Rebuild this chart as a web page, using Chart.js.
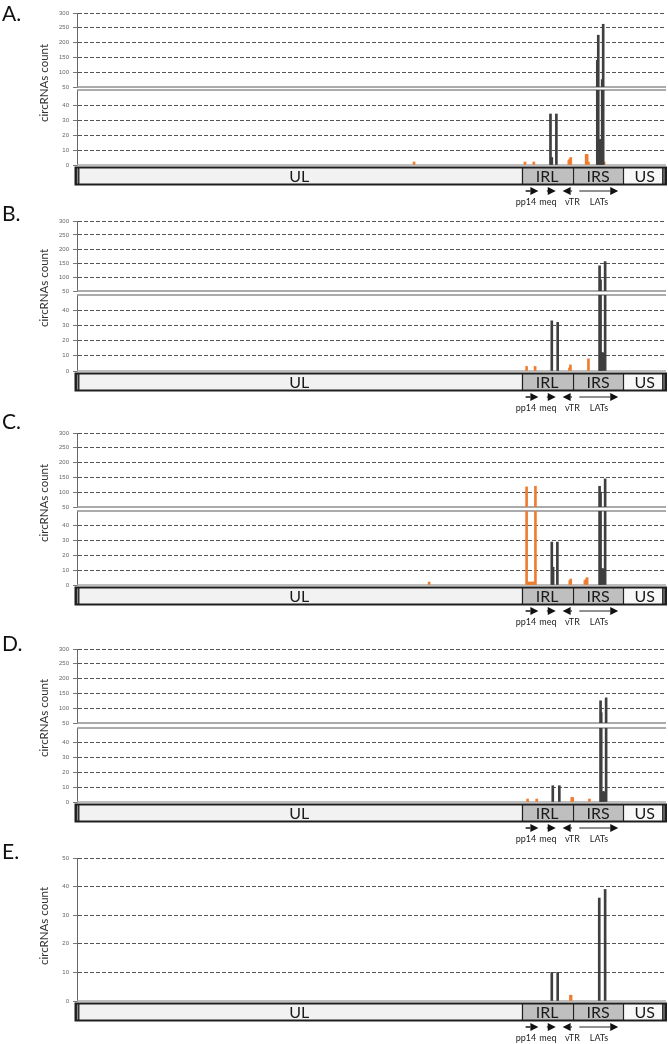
<!DOCTYPE html>
<html><head><meta charset="utf-8">
<script src="https://cdn.jsdelivr.net/npm/chart.js@4.4.1/dist/chart.umd.min.js"></script>
<style>
html,body{margin:0;padding:0;background:#fff;}
body{width:668px;height:1044px;position:relative;overflow:hidden;font-family:Lato,sans-serif;}
canvas{position:absolute;left:0;}
.letter{position:absolute;left:2px;font-size:21px;line-height:21px;color:#111;}
.ytitle{position:absolute;left:44px;white-space:nowrap;font-size:11.5px;line-height:1;color:#333;transform:translate(-50%,-50%) rotate(-90deg);}
</style></head><body>
<script>
// ---------- data ----------
const BREAK = 50;
const genomeMin = 0, genomeMax = 180;            // genome position (kb)
const regionNames = ['UL', 'IRL', 'IRS', 'US'];
const regionStart = [0, 135.9, 151.5, 167.0];
const regionEnd   = [135.9, 151.5, 167.0, 180];
const geneNames   = ['pp14', 'meq', 'vTR', 'LATs'];
const geneFrom    = [137.1, 143.6, 151.2, 153.5];
const geneTo      = [141.0, 146.3, 148.4, 165.4];
const geneLabelAt = [137.2, 143.9, 151.4, 159.5];
const upperTicks  = [50, 100, 150, 200, 250, 300];
const lowerTicks  = [0, 10, 20, 30, 40, 50];
const panelLabels = ['A.', 'B.', 'C.', 'D.', 'E.'];
const axisTitle   = 'circRNAs count';

// panel A
const A_grayPos   = [144.7, 145.1, 146.5, 159.0, 159.3, 159.7, 160.1, 160.5, 160.8];
const A_grayVal   = [34, 5, 34, 140, 225, 17, 17, 75, 262];
const A_orangePos = [103.0, 136.9, 139.6, 150.3, 150.6, 150.9, 155.6, 155.9, 156.3, 161.1];
const A_orangeVal = [2, 2, 2, 3, 4, 5, 7, 7, 2, 2];
// panel B
const B_grayPos   = [145.1, 146.9, 159.7, 160.0, 160.4, 160.8, 161.4];
const B_grayVal   = [33, 32, 140, 90, 12, 12, 155];
const B_orangePos = [137.4, 140.0, 150.5, 150.8, 156.3];
const B_orangeVal = [3, 3, 2, 4, 8];
// panel C
const C_grayPos   = [145.1, 145.5, 146.8, 159.7, 160.0, 160.4, 160.8, 161.4];
const C_grayVal   = [29, 12, 29, 120, 100, 11, 11, 145];
const C_orangePos = [107.6, 137.4, 137.8, 138.3, 138.8, 139.3, 139.7, 140.1, 150.6, 150.9, 155.2, 155.6, 155.9];
const C_orangeVal = [2, 118, 2, 2, 2, 2, 2, 120, 3, 4, 3, 4, 5];
// panel D
const D_grayPos   = [145.4, 147.4, 160.0, 160.2, 160.7, 161.1, 161.7];
const D_grayVal   = [11, 11, 125, 85, 7, 7, 135];
const D_orangePos = [137.7, 140.5, 151.2, 151.5, 156.6];
const D_orangeVal = [2, 2, 3, 3, 2];
// panel E
const E_grayPos   = [145.1, 146.9, 159.6, 161.4];
const E_grayVal   = [10, 10, 36, 39];
const E_orangePos = [150.8, 151.0];
const E_orangeVal = [2, 2];

// ---------- layout / style ----------
const GRAY = '#3f3f3f', ORANGE = '#ed7d31';
const PAD_TOP = 8, PAD_BOT = 43, AXIS_W = 77;
const regionFill = {UL: '#f2f2f2', IRL: '#bfbfbf', IRS: '#bfbfbf', US: '#f8f8f8'};
const panels = [
  {letterTop: 1.5,   top: 13,  brk1: 87,  brk2: 90,  zero: 165,  titleY: 83,  gray: [A_grayPos, A_grayVal], orange: [A_orangePos, A_orangeVal], broken: true},
  {letterTop: 201.5, top: 221, brk1: 291, brk2: 295, zero: 371,  titleY: 288, gray: [B_grayPos, B_grayVal], orange: [B_orangePos, B_orangeVal], broken: true},
  {letterTop: 409.5, top: 433, brk1: 507, brk2: 511, zero: 585,  titleY: 503, gray: [C_grayPos, C_grayVal], orange: [C_orangePos, C_orangeVal], broken: true},
  {letterTop: 631.5, top: 649, brk1: 723, brk2: 728, zero: 802,  titleY: 718, gray: [D_grayPos, D_grayVal], orange: [D_orangePos, D_orangeVal], broken: true},
  {letterTop: 840,   top: 858, zero: 1001, titleY: 926, gray: [E_grayPos, E_grayVal], orange: [E_orangePos, E_orangeVal], broken: false}
];

Chart.defaults.font.family = 'Lato, sans-serif';
const tickFont = {family: 'Liberation Sans', size: 6};
const clear = 'rgba(0,0,0,0)';

function lowerData(pos, val) { return pos.map((p, i) => ({x: p, y: Math.min(val[i], BREAK)})); }
function upperData(pos, val) { return pos.map((p, i) => ({x: p, y: [BREAK, val[i]]})).filter(d => d.y[1] > BREAK); }

function yScale(extra) {
  return Object.assign({
    type: 'linear', position: 'left',
    afterFit: s => { s.width = AXIS_W; },
    border: {display: true, color: '#666', width: 1, dash: [4, 2]},
    ticks: {font: tickFont, color: '#666', padding: 4, autoSkip: false}
  }, extra);
}

const genomePlugin = {
  id: 'genome',
  beforeDatasetsDraw(chart, args, o) {
    const ctx = chart.ctx, a = chart.chartArea;
    const yb = chart.scales.yBot;
    ctx.save();
    if (o.broken) {
      ctx.strokeStyle = '#8f8f8f'; ctx.lineWidth = 1.5;
      [chart.scales.yTop.getPixelForValue(BREAK), yb.getPixelForValue(BREAK)].forEach(y => {
        ctx.beginPath(); ctx.moveTo(a.left, y); ctx.lineTo(a.right, y); ctx.stroke();
      });
    }
    const y0 = yb.getPixelForValue(0);
    ctx.strokeStyle = '#a8a8a8'; ctx.lineWidth = 1.5;
    ctx.beginPath(); ctx.moveTo(a.left, y0); ctx.lineTo(a.right, y0); ctx.stroke();
    ctx.restore();
  },
  afterDraw(chart) {
    const ctx = chart.ctx, xs = chart.scales.x;
    const y0 = chart.scales.yBot.getPixelForValue(0);
    const top = y0 + 2.5, bot = y0 + 19.5;
    const gx0 = xs.getPixelForValue(genomeMin) - 1.5, gx1 = xs.getPixelForValue(genomeMax);
    ctx.save();
    // regions
    regionNames.forEach((n, i) => {
      const x1 = xs.getPixelForValue(regionStart[i]), x2 = xs.getPixelForValue(regionEnd[i]);
      ctx.fillStyle = regionFill[n];
      ctx.fillRect(x1, top, x2 - x1, bot - top);
    });
    // end caps
    [[gx0, gx0 + 4], [gx1 - 4, gx1]].forEach(([c1, c2]) => {
      ctx.fillStyle = '#333'; ctx.fillRect(c1, top, c2 - c1, bot - top);
      ctx.fillStyle = '#ddd';
      for (let yy = top + 1; yy < bot - 1; yy += 2) ctx.fillRect((c1 + c2) / 2 - 0.5, yy, 1, 1);
    });
    // dividers
    ctx.strokeStyle = '#222'; ctx.lineWidth = 1.2;
    regionStart.slice(1).forEach(v => {
      const x = Math.round(xs.getPixelForValue(v)) + 0.5;
      ctx.beginPath(); ctx.moveTo(x, top); ctx.lineTo(x, bot); ctx.stroke();
    });
    ctx.lineWidth = 2; ctx.strokeStyle = '#1e1e1e';
    ctx.strokeRect(gx0, top, gx1 - gx0, bot - top);
    // region labels
    ctx.fillStyle = '#1a1a1a'; ctx.font = '16px Lato'; ctx.textAlign = 'center'; ctx.textBaseline = 'middle';
    regionNames.forEach((n, i) => {
      const x1 = xs.getPixelForValue(regionStart[i]), x2 = xs.getPixelForValue(regionEnd[i]);
      ctx.fillText(n, (x1 + x2) / 2, (top + bot) / 2 + 1);
    });
    // gene arrows
    const ay = y0 + 26, head = 8, hh = 4;
    ctx.fillStyle = '#111'; ctx.strokeStyle = '#222';
    geneNames.forEach((g, i) => {
      const xa = xs.getPixelForValue(geneFrom[i]), xb = xs.getPixelForValue(geneTo[i]);
      const dir = xb > xa ? 1 : -1;
      const base = xb - dir * head;
      if (Math.abs(xb - xa) > head + 0.5) {
        ctx.lineWidth = g === 'LATs' ? 1 : 1.6;
        ctx.beginPath(); ctx.moveTo(xa, ay); ctx.lineTo(base, ay); ctx.stroke();
      }
      ctx.beginPath(); ctx.moveTo(base, ay - hh); ctx.lineTo(xb, ay); ctx.lineTo(base, ay + hh); ctx.closePath(); ctx.fill();
    });
    ctx.font = '9px Lato'; ctx.fillStyle = '#222';
    geneNames.forEach((g, i) => ctx.fillText(g, xs.getPixelForValue(geneLabelAt[i]), y0 + 37.5));
    ctx.restore();
  }
};

panels.forEach((p, idx) => {
  const h = p.zero - p.top + PAD_TOP + PAD_BOT;
  const cv = document.createElement('canvas');
  cv.width = 668; cv.height = h;
  cv.style.top = (p.top - PAD_TOP) + 'px'; cv.style.width = '668px'; cv.style.height = h + 'px';
  document.body.appendChild(cv);

  const lt = document.createElement('div');
  lt.className = 'letter'; lt.style.top = p.letterTop + 'px'; lt.textContent = panelLabels[idx];
  document.body.appendChild(lt);
  const tt = document.createElement('div');
  tt.className = 'ytitle'; tt.style.top = p.titleY + 'px'; tt.textContent = axisTitle;
  document.body.appendChild(tt);

  const datasets = [
    {data: lowerData(p.gray[0], p.gray[1]), yAxisID: 'yBot', backgroundColor: GRAY, order: 0},
    {data: lowerData(p.orange[0], p.orange[1]), yAxisID: 'yBot', backgroundColor: ORANGE, order: 1}
  ];
  const scales = {
    x: {type: 'linear', min: genomeMin, max: genomeMax, display: false, offset: false, grid: {offset: false}}
  };
  if (p.broken) {
    datasets.push({data: upperData(p.gray[0], p.gray[1]), yAxisID: 'yTop', backgroundColor: GRAY, order: 0});
    datasets.push({data: upperData(p.orange[0], p.orange[1]), yAxisID: 'yTop', backgroundColor: ORANGE, order: 1});
    scales.yBot = yScale({
      stack: 'brk', stackWeight: p.zero - p.brk2, weight: 1, min: 0, max: BREAK,
      afterBuildTicks: s => { s.ticks = lowerTicks.map(v => ({value: v})); },
      ticks: {font: tickFont, color: '#666', padding: 4, autoSkip: false, callback: v => v === BREAK ? '' : v},
      grid: {lineWidth: 1, tickLength: 4,
        color: c => (c.tick && c.tick.value > 0 && c.tick.value < BREAK) ? '#555' : clear,
        tickColor: c => (c.tick && c.tick.value === BREAK) ? clear : '#777'}
    });
    scales.yGap = {type: 'linear', position: 'left', stack: 'brk', stackWeight: p.brk2 - p.brk1, weight: 2,
      min: 0, max: 1, afterFit: s => { s.width = AXIS_W; },
      grid: {display: false, drawTicks: false}, ticks: {display: false}, border: {display: false}};
    scales.yTop = yScale({
      stack: 'brk', stackWeight: p.brk1 - p.top, weight: 3, min: BREAK, max: 300,
      afterBuildTicks: s => { s.ticks = upperTicks.map(v => ({value: v})); },
      grid: {lineWidth: 1, tickLength: 4,
        color: c => (c.tick && c.tick.value > BREAK) ? '#555' : clear, tickColor: '#777'}
    });
  } else {
    scales.yBot = yScale({
      min: 0, max: BREAK,
      afterBuildTicks: s => { s.ticks = lowerTicks.map(v => ({value: v})); },
      grid: {lineWidth: 1, tickLength: 4,
        color: c => (c.tick && c.tick.value > 0) ? '#555' : clear, tickColor: '#777'}
    });
  }
  new Chart(cv, {
    type: 'bar',
    data: {datasets: datasets.map(d => Object.assign({barThickness: 2, grouped: false, borderWidth: 0}, d))},
    options: {
      responsive: false, animation: false, events: [],
      layout: {padding: {top: PAD_TOP, bottom: PAD_BOT, left: 0, right: 2}},
      scales,
      plugins: {legend: {display: false}, tooltip: {enabled: false}, genome: {broken: p.broken}}
    },
    plugins: [genomePlugin]
  });
});
</script>
</body></html>
